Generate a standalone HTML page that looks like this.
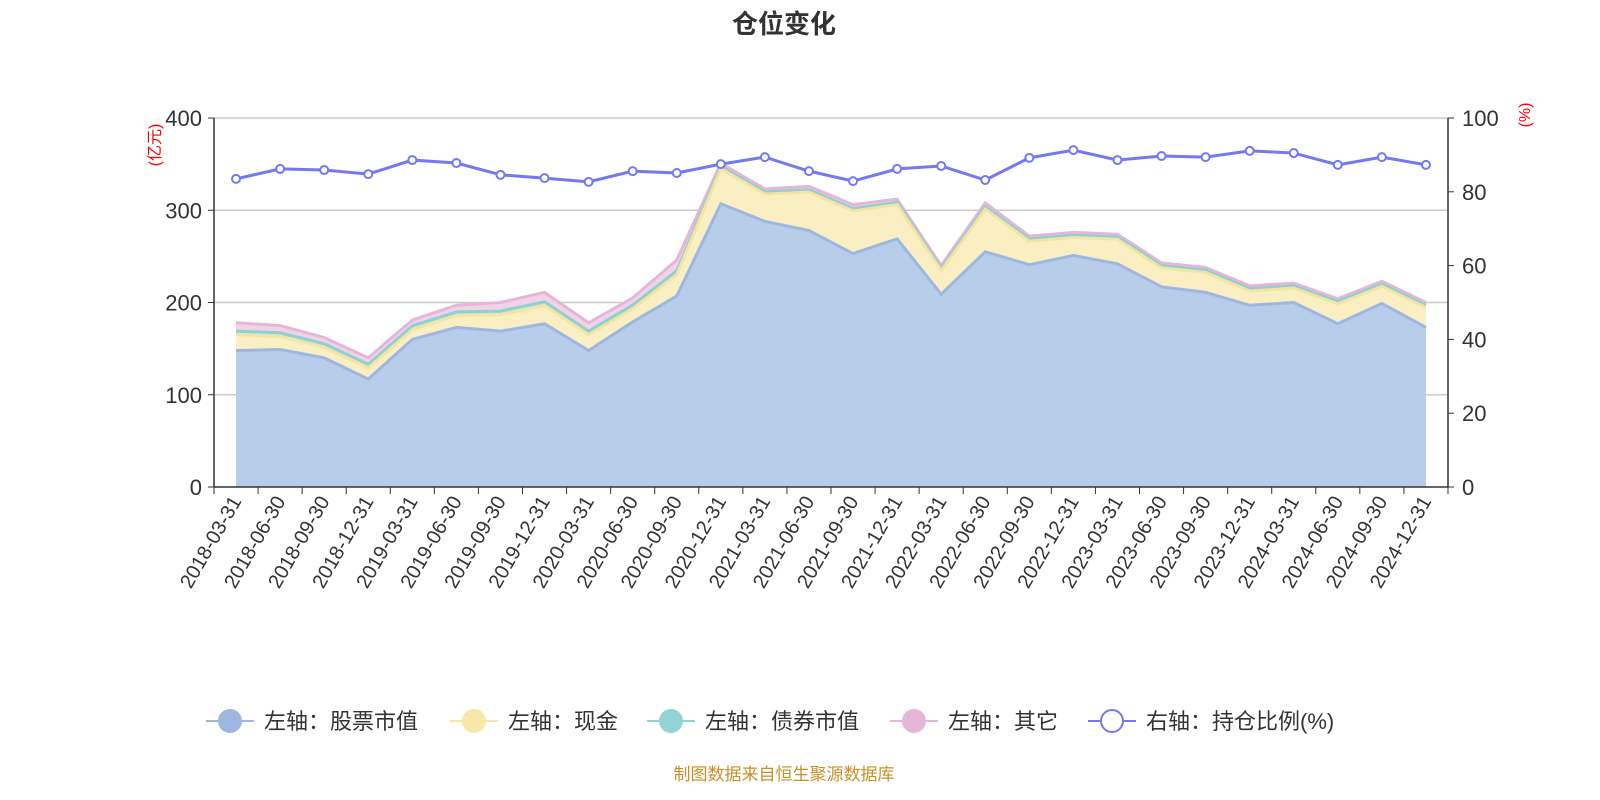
<!DOCTYPE html>
<html><head><meta charset="utf-8"><style>
html,body{margin:0;padding:0;background:#fff;width:1600px;height:800px;overflow:hidden}
text{font-family:"Liberation Sans","Noto Sans CJK SC",sans-serif}
</style></head><body>
<svg id="s" width="1600" height="800" xmlns="http://www.w3.org/2000/svg"></svg>
<script>
const S=document.getElementById('s');
const dates=[];for(let y=2018;y<=2024;y++)for(const m of['03-31','06-30','09-30','12-31'])dates.push(y+'-'+m);
const stock=[148,149,140,117,160,173,169,177,148,179,207,307,288,278,253,269,209,255,241,251,242,217,211,197,200,177,199,173];
const total=[178,175,162,140,181,197,200,211,178,205,246,351,323,326,306,312,240,308,272,276,274,243,238,218,221,204,223,200];
const pct=[83.5,86.2,85.9,84.8,88.6,87.8,84.6,83.7,82.7,85.6,85.1,87.5,89.4,85.6,82.9,86.2,87.0,83.2,89.2,91.3,88.6,89.7,89.4,91.1,90.5,87.3,89.4,87.3];
const x0=214,x1=1448,yT=118,yB=487,bw=(x1-x0)/28;
const X=i=>x0+bw*(i+0.5),Y=v=>yB-(yB-yT)*v/400,YR=v=>yB-(yB-yT)*v/100;
let bond=[],cash=[];
for(let i=0;i<28;i++){const e=i<11?1:0.5;const oth=Math.max(3,(total[i]-stock[i])*(i<11?0.3:0.08));const bd=i<11?4:2.5;bond.push(total[i]-oth);cash.push(total[i]-oth-bd);}
let h='';
h+=`<text x="784" y="33" font-size="26" font-weight="bold" text-anchor="middle" fill="#333">仓位变化</text>`;
for(const v of[100,200,300,400])h+=`<line x1="${x0}" x2="${x1}" y1="${Y(v)}" y2="${Y(v)}" stroke="#ccc" stroke-width="1.5"/>`;
function area(arr,fill,stroke,lo){let p=arr.map((v,i)=>`${X(i)},${Y(v)}`).join(' ');
 let base=lo?lo.map((v,i)=>`${X(i)},${Y(v)}`).reverse().join(' '):`${X(27)},${yB} ${X(0)},${yB}`;
 return `<polygon points="${p} ${base}" fill="${fill}"/><polyline points="${p}" fill="none" stroke="${stroke}" stroke-width="3"/>`;}
h+=area(total,'#f1d3e8','#e6b6d8',bond);
h+=area(bond,'#bfe6e3','#8fd1d0',cash);
h+=area(cash,'#faefc3','#f4e4a3',stock);
h+=area(stock,'#b8cdea','#9db7df',null);
h+=`<line x1="${x0}" x2="${x0}" y1="${yT}" y2="${yB}" stroke="#333" stroke-width="1.5"/><line x1="${x1}" x2="${x1}" y1="${yT}" y2="${yB}" stroke="#333" stroke-width="1.5"/><line x1="${x0}" x2="${x1}" y1="${yB}" y2="${yB}" stroke="#333" stroke-width="1.5"/>`;
for(let v=0;v<=400;v+=100){h+=`<line x1="${x0-6}" x2="${x0}" y1="${Y(v)}" y2="${Y(v)}" stroke="#333"/><text x="${x0-12}" y="${Y(v)+8}" font-size="22" text-anchor="end" fill="#333">${v}</text>`;}
for(let v=0;v<=100;v+=20){h+=`<line x1="${x1}" x2="${x1+6}" y1="${YR(v)}" y2="${YR(v)}" stroke="#333"/><text x="${x1+14}" y="${YR(v)+8}" font-size="22" fill="#333">${v}</text>`;}
h+=`<text transform="translate(160,145) rotate(-90)" font-size="16" fill="red" text-anchor="middle">(亿元)</text>`;
h+=`<text transform="translate(1530,115) rotate(-90)" font-size="16" fill="red" text-anchor="middle">(%)</text>`;
for(let i=0;i<=28;i++)h+=`<line x1="${x0+bw*i}" x2="${x0+bw*i}" y1="${yB}" y2="${yB+7}" stroke="#333"/>`;
for(let i=0;i<28;i++)h+=`<text transform="translate(${X(i)+6},${yB+14}) rotate(-60)" font-size="20" text-anchor="end" fill="#333">${dates[i]}</text>`;
h+=`<polyline points="${pct.map((v,i)=>X(i)+','+YR(v)).join(' ')}" fill="none" stroke="#7378f3" stroke-width="3"/>`;
for(let i=0;i<28;i++)h+=`<circle cx="${X(i)}" cy="${YR(pct[i])}" r="4" fill="#fff" stroke="#7378f3" stroke-width="2"/>`;
const lg=[['左轴：股票市值','#9db7df',true,206],['左轴：现金','#f7e7a8',true,450],['左轴：债券市值','#92d3d3',true,647],['左轴：其它','#e6b6d8',true,890],['右轴：持仓比例(%)','#7378f3',false,1088]];
for(const [t,c,f,x] of lg){h+=`<line x1="${x}" x2="${x+48}" y1="721" y2="721" stroke="${c}" stroke-width="2"/><circle cx="${x+24}" cy="721" r="11" fill="${f?c:'#fff'}" stroke="${c}" stroke-width="2"/><text x="${x+58}" y="729" font-size="22" fill="#333">${t}</text>`;}
h+=`<text x="784" y="780" font-size="17" text-anchor="middle" fill="#c8902a">制图数据来自恒生聚源数据库</text>`;
S.innerHTML=h;
</script>
</body></html>
